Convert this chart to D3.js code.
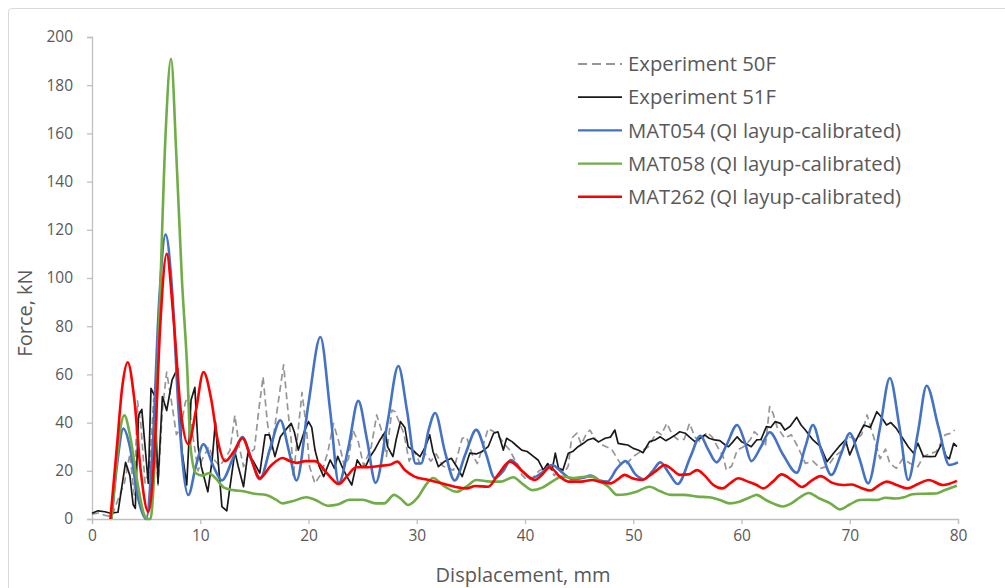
<!DOCTYPE html>
<html>
<head>
<meta charset="utf-8">
<script src="https://cdn.jsdelivr.net/npm/d3@7"></script>
<style>
  body { margin: 0; background: #fff; }
  svg text { font-family: "Open Sans", sans-serif; fill: #595959; }
</style>
</head>
<body>
<svg id="chart" width="1005" height="588"></svg>
<script>
// series: [displacement mm, force kN]
var exp50F = [[0,2],[0.6,2.5],[1.2,1.5],[1.8,1],[2.4,8],[3.0,15],[3.5,27],[3.9,10],[4.2,49],[4.5,40],[4.9,15],[5.3,20],[5.7,50],[6.1,14],[6.5,45],[6.9,61],[7.3,50],[7.8,35],[8.2,38],[8.6,48],[8.9,52],[9.3,35],[9.8,20],[10.2,25],[10.8,30],[11.2,25],[11.8,22],[12.3,25],[12.75,28.6],[13.2,43],[13.6,30],[14.0,21.7],[14.5,27],[15.0,29],[15.4,45],[15.8,59],[16.2,40],[16.6,28.6],[17.0,42],[17.7,64],[18.1,45],[18.4,32.8],[18.6,17.6],[19.0,35],[19.4,52.5],[19.8,38],[20.1,21.7],[20.6,14.8],[21.2,19],[21.8,28],[22.3,39.7],[22.8,32],[23.3,22],[23.7,25],[24.1,36.9],[24.6,32],[25.1,22],[25.8,30],[26.3,43.2],[26.8,36],[27.2,26],[27.7,45.2],[28.0,44.5],[28.4,40],[28.8,35.6],[29.3,24],[29.8,28],[30.3,23],[30.8,27],[31.3,24],[31.8,27],[32.4,22],[32.9,21],[33.4,20.3],[33.8,27],[34.2,33.5],[34.6,34],[35.1,27],[35.6,23],[36.1,30],[36.6,37.6],[37.2,36],[37.8,33],[38.3,30],[38.6,28.6],[39.0,25],[39.4,22],[39.7,18.3],[40.2,16.2],[40.7,17],[41.3,20],[42.2,22],[42.7,18],[43.2,21],[43.6,19],[44.0,22],[44.3,33.5],[44.8,35.6],[45.2,31],[45.7,35.6],[46.0,36.9],[46.5,33],[47.0,31],[47.5,30],[48.0,29],[48.4,26],[48.8,23.1],[49.4,23],[50.0,25.9],[50.7,28],[51.4,30],[52.2,36.2],[52.6,35],[53.1,39.7],[53.6,35],[54.1,33],[54.7,33],[55.2,39.7],[55.7,34],[56.2,32],[56.8,36],[57.3,34],[57.9,29],[58.3,26],[58.6,20.3],[59.1,22],[59.6,28.6],[60.2,30],[60.8,32.8],[61.2,36.2],[61.7,34],[62.2,30],[62.6,46.6],[62.9,44],[63.3,38],[64.0,33.5],[64.6,35],[65.2,30],[65.9,23.1],[66.6,24],[67.3,21],[68.0,22],[68.6,26],[69.2,28],[70.0,34],[70.6,33],[71.1,35],[71.6,43.2],[72.0,37],[72.3,32.8],[72.8,25],[73.3,29],[73.7,23.1],[74.3,21],[74.9,25],[75.6,23],[76.3,21.7],[76.8,26],[77.4,27],[78.0,28],[78.8,34.9],[79.3,35.5],[79.7,36.9]];

var exp51F = [[0,2.4],[0.55,3.4],[1.2,3],[1.7,2.4],[2.4,2.8],[3.1,23.5],[3.5,18],[3.8,6],[4.0,4.4],[4.3,43],[4.6,45.5],[5.2,14.8],[5.45,54.2],[5.8,51],[6.1,14.8],[6.5,50.8],[6.9,45],[7.4,57.7],[7.9,62.5],[8.3,28.6],[8.75,14.1],[9.15,49.4],[9.5,54.6],[9.8,30],[10.1,21.7],[10.7,11.3],[11.1,24.5],[11.4,40.4],[11.7,21.7],[12.0,5.1],[12.45,3.4],[12.75,13.4],[13.2,27.9],[13.5,22],[14.0,13.4],[14.4,27.3],[14.9,24],[15.5,19],[16.0,34.9],[16.4,34.9],[16.9,25.9],[17.4,34.1],[18.0,37.6],[18.4,39.7],[18.7,36],[19.06,28.6],[19.6,36.2],[20.0,40.4],[20.3,38],[20.6,28.6],[21.0,21.7],[21.4,17.6],[22.0,24.5],[22.4,21],[22.7,26],[23.1,21.7],[23.5,18],[24.0,14.1],[24.5,24.5],[24.9,21.7],[25.3,22],[25.7,25.9],[26.1,28.6],[26.6,32.8],[27.1,36.2],[27.3,30],[27.8,25.9],[28.1,33],[28.5,40.4],[28.9,38],[29.2,30],[29.8,27.9],[30.3,25.9],[30.8,30],[31.2,34.9],[31.5,28],[32.0,21.7],[32.6,24],[33.2,25.2],[33.7,21.7],[34.2,17.6],[34.6,23.1],[34.9,27.3],[35.5,27],[36.0,27.9],[36.6,30],[37.1,35.6],[37.5,36.2],[38.0,28.6],[38.3,33.5],[38.8,32.1],[39.2,30.5],[39.7,28.6],[40.2,28],[40.6,26.6],[41.2,24.5],[41.7,20.3],[42.1,23],[42.5,20.3],[42.8,27.3],[43.1,21],[43.5,20.3],[44.0,27.3],[44.4,28],[44.9,30],[45.4,31.4],[45.8,32.8],[46.3,33.5],[46.8,32],[47.4,33.5],[47.9,34],[48.3,36.9],[48.6,31.4],[49.1,31],[49.5,30.7],[50.0,29.3],[50.5,28.5],[50.9,27.5],[51.5,32.1],[52.0,32.8],[52.5,34.1],[53.0,32.5],[53.4,33.5],[53.9,34.9],[54.3,36.2],[54.8,35.6],[55.2,34],[55.7,32.1],[56.2,33.5],[56.6,34.9],[57.0,33.5],[57.5,32.8],[58.0,32.5],[58.5,30.7],[58.8,30],[59.2,32],[59.6,34.1],[60.0,32.1],[60.5,31],[60.9,30],[61.4,32.8],[61.8,33],[62.3,38.3],[62.7,38],[63.1,40.4],[63.6,39.7],[64.0,36.9],[64.5,38.5],[65.1,42.2],[65.5,39],[65.9,36.9],[66.6,32.8],[67.3,30],[67.9,23.8],[68.5,27.3],[69.0,30],[69.6,32.8],[70.0,26.6],[70.6,32.8],[71.3,39],[71.9,38],[72.5,44.5],[72.9,42.4],[73.4,39],[73.8,40],[74.3,37.6],[74.8,34.1],[75.4,30],[75.9,27.3],[76.3,31.4],[76.8,26],[77.4,25.9],[77.9,26],[78.5,31.4],[78.9,25.9],[79.2,25],[79.6,31.4],[79.9,30]];

var mat054 = [[1.8,0],[2.3,22],[2.9,37.5],[3.5,30],[4.2,10],[5.0,0],[5.6,30],[6.2,90],[6.8,118],[7.4,95],[8.0,45],[8.9,10],[9.6,22],[10.3,31],[11.2,22],[12.0,16],[13.0,25],[13.9,34],[14.7,25],[15.5,16.5],[16.5,30],[17.4,41],[18.2,28],[18.9,16],[20.0,48],[21.1,75.5],[22.0,45],[22.8,15],[23.7,30],[24.6,49],[25.4,33],[26.2,15],[27.3,40],[28.3,63.5],[29.1,45],[29.9,23],[30.4,23],[31.1,37],[31.7,44],[32.6,28],[33.5,16],[34.5,27],[35.5,37],[36.4,27],[37.2,17],[38.0,20],[38.7,24.5],[39.8,19.6],[40.6,16.9],[41.5,19],[42.5,22.4],[43.5,19],[44.4,16.5],[45.3,17],[46.1,18],[46.9,16],[47.6,15.5],[48.5,21],[49.3,24],[50.2,18.5],[51.0,16.5],[51.8,20],[52.5,23.5],[53.3,19],[54.1,14.5],[55.3,26],[56.2,34.5],[56.9,29],[57.7,23.5],[58.6,30.5],[59.6,39],[60.3,32],[60.9,24],[61.8,30],[62.6,36],[63.8,27],[65.1,19.2],[65.9,30],[66.6,39],[67.4,28],[68.3,18.3],[69.2,27],[70.0,35.6],[70.9,25],[71.7,14.8],[72.8,38],[73.7,58.5],[74.6,38],[75.4,16.2],[76.3,36],[77.1,55.3],[78.2,38],[79.2,22.4],[80,23.5]];

var mat058 = [[1.8,0],[2.2,20],[2.6,37],[3.0,43],[3.5,35],[4.2,15],[4.8,2],[5.1,0],[5.4,0],[5.7,15],[6.2,80],[6.8,160],[7.3,191],[7.8,150],[8.3,100],[8.8,62],[9.1,30],[9.6,19],[10.2,18],[10.8,19],[11.4,17],[12.2,13],[13.0,12],[14.0,11.5],[15.0,10.5],[16.1,10],[17.0,8],[17.6,6.5],[18.6,7.5],[19.8,9],[20.6,8],[21.8,5.5],[22.7,6],[23.8,8],[25.0,8],[26.2,6.5],[27.0,6.5],[27.9,10],[28.5,8.5],[29.2,5.8],[30.1,9],[30.9,14.5],[31.5,17],[32.6,13.4],[33.7,11.3],[34.6,13.5],[35.5,16.2],[36.8,15.5],[37.8,15.5],[38.9,17.3],[39.8,14.5],[40.7,12],[41.6,13],[42.5,15.5],[43.4,17.6],[44.5,17],[45.5,17.5],[46.2,17.6],[47.0,15.5],[47.7,13.4],[48.5,10],[49.4,10.3],[50.3,11.3],[51.5,13.4],[52.5,11.5],[53.5,10],[54.7,10],[55.9,9.3],[57.0,9],[58.0,7.9],[58.9,6.5],[59.8,7.2],[60.8,9],[61.4,10],[62.2,8],[62.9,6.5],[63.8,5.2],[64.6,6.5],[65.4,9],[66.2,10.8],[67.2,8.5],[68.2,6.5],[69.1,4],[70.0,6],[70.9,7.9],[71.7,8],[72.5,7.9],[73.3,8.8],[74.2,8.5],[75.0,9],[75.8,10.3],[76.8,10.5],[78.0,10.6],[78.8,12],[79.9,13.8]];

var mat262 = [[1.7,0],[2.3,30],[2.8,55],[3.3,65],[3.9,50],[4.5,20],[5.2,3],[5.8,30],[6.3,80],[6.9,110],[7.5,85],[8.2,45],[8.9,31],[9.6,45],[10.3,61],[11.0,50],[11.6,33],[12.3,24],[13.1,28],[13.9,33.5],[14.7,25],[15.5,17],[16.5,22],[17.6,25.3],[18.3,24],[18.9,23.3],[19.7,24],[20.6,24],[21.7,19],[22.8,14.5],[23.6,18],[24.4,21.5],[25.5,21.5],[26.5,22],[27.5,22.5],[28.2,23.8],[28.9,20.3],[29.8,17.6],[31.1,16.2],[32.3,14.8],[33.5,13.4],[34.6,12.7],[35.4,13.7],[36.6,13.4],[37.5,18.3],[38.6,23.8],[39.8,19.6],[40.9,16.2],[41.6,18.5],[42.3,21.5],[43.2,17.6],[44.0,15.5],[45.2,15.5],[46.2,16.2],[46.9,15.5],[47.9,14.8],[48.7,16.9],[49.2,18.3],[49.9,16.9],[50.8,16.2],[51.5,18],[52.2,20.3],[52.9,22.4],[53.6,20.5],[54.3,18.3],[55.1,18.5],[55.9,20.3],[56.6,18],[57.4,14.1],[58.2,12.7],[59.0,15],[59.7,16.9],[60.6,15.5],[61.4,14.1],[62.0,12.7],[62.9,15.5],[63.7,18.5],[64.7,16],[65.6,13.3],[66.5,16],[67.3,17.8],[68.4,15],[69.4,14.1],[70.2,14.3],[71.0,13],[71.9,11.8],[72.7,14],[73.4,15.5],[74.4,14],[75.3,12.7],[76.3,14.5],[77.3,16.2],[78.6,14.1],[79.9,15.8]];

var seriesNames = ["Experiment 50F", "Experiment 51F", "MAT054 (QI layup-calibrated)", "MAT058 (QI layup-calibrated)", "MAT262 (QI layup-calibrated)"];
var seriesData = [exp50F, exp51F, mat054, mat058, mat262];
var seriesColors = ["#969696", "#1a1a1a", "#4472c4", "#70ad47", "#ff0000"];

var xTicks = [0, 10, 20, 30, 40, 50, 60, 70, 80];
var yTicks = [0, 20, 40, 60, 80, 100, 120, 140, 160, 180, 200];

var svg = d3.select("#chart");

// outer frame
svg.append("rect")
    .attr("x", 8.5).attr("y", 8.5)
    .attr("width", 1020).attr("height", 600)
    .attr("rx", 3)
    .attr("fill", "none")
    .attr("stroke", "#d9d9d9");

var x = d3.scaleLinear().domain([0, 80]).range([92, 958]);
var y = d3.scaleLinear().domain([0, 200]).range([519, 37]);

// y axis
svg.append("g")
    .attr("transform", "translate(92,0)")
    .call(d3.axisLeft(y).tickValues(yTicks).tickSize(5).tickPadding(14));
// x axis
svg.append("g")
    .attr("transform", "translate(0,519)")
    .call(d3.axisBottom(x).tickValues(xTicks).tickSize(5).tickPadding(6));

svg.selectAll(".domain").attr("stroke", "#bfbfbf").attr("stroke-width", 1.3);
svg.selectAll(".tick line").attr("stroke", "#bfbfbf").attr("stroke-width", 1.3);
svg.selectAll(".tick text")
    .attr("fill", "#595959")
    .style("font-family", "'Open Sans', sans-serif")
    .style("font-size", "15.5px");

// axis titles
svg.append("text")
    .attr("x", 523).attr("y", 582)
    .attr("text-anchor", "middle")
    .style("font-size", "20px")
    .text("Displacement, mm");

svg.append("text")
    .attr("transform", "translate(32,313) rotate(-90)")
    .attr("text-anchor", "middle")
    .style("font-size", "20px")
    .text("Force, kN");

// lines
var plot = svg.append("g");
seriesData.forEach(function(d, i) {
  var sim = i >= 2;
  var line = d3.line()
      .x(function(p) { return x(p[0]); })
      .y(function(p) { return y(p[1]); })
      .curve(sim ? d3.curveMonotoneX : d3.curveLinear);
  plot.append("path")
      .datum(d)
      .attr("fill", "none")
      .attr("stroke", seriesColors[i])
      .attr("stroke-width", sim ? 2.6 : 1.7)
      .attr("stroke-linejoin", "round")
      .attr("stroke-dasharray", i == 0 ? "7,4" : null)
      .attr("d", line);
});

// legend
var legend = svg.append("g").attr("transform", "translate(578,64)");
seriesNames.forEach(function(name, i) {
  var row = legend.append("g").attr("transform", "translate(0," + (i * 33.2) + ")");
  row.append("line")
      .attr("x1", 0).attr("x2", 44)
      .attr("stroke", seriesColors[i])
      .attr("stroke-width", i < 2 ? 1.8 : 2.4)
      .attr("stroke-dasharray", i == 0 ? "9,5" : null);
  row.append("text")
      .attr("x", 50).attr("dy", "0.35em")
      .style("font-size", "20.3px")
      .text(name);
});
</script>
</body>
</html>
